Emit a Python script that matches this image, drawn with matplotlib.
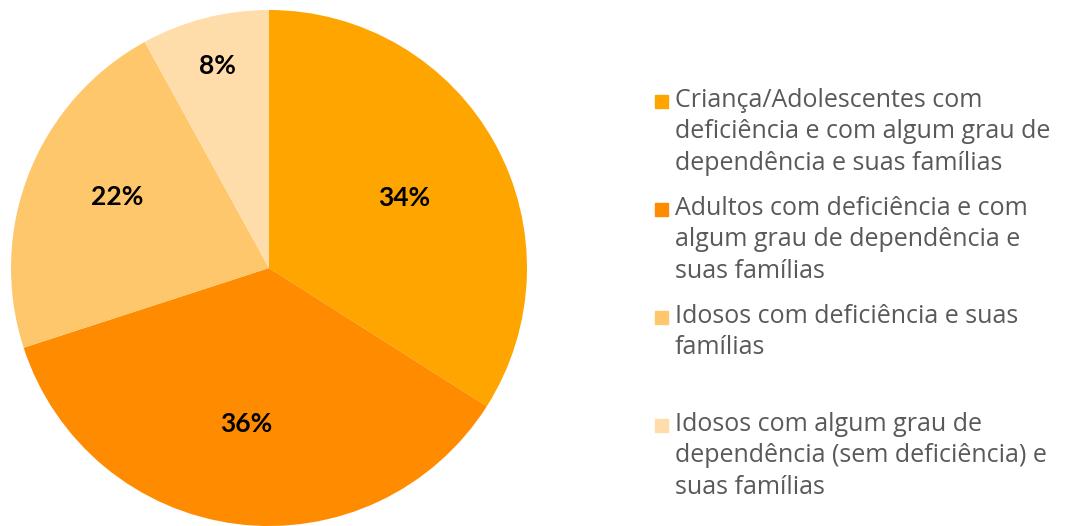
import matplotlib.pyplot as plt
from matplotlib.patches import Rectangle
import numpy as np

# data
labels = ['Criança/Adolescentes com\ndeficiência e com algum grau de\ndependência e suas famílias',
          'Adultos com deficiência e com\nalgum grau de dependência e\nsuas famílias',
          'Idosos com deficiência e suas\nfamílias',
          'Idosos com algum grau de\ndependência (sem deficiência) e\nsuas famílias']
shares = [34, 36, 22, 8]
colors = ['#FFA500', '#FF8C00', '#FFC76B', '#FFDDAA']
label_dist = [0.59, 0.61, 0.65, 0.81]
label_turn = [-1.5, -1.0, -3.5, 0.0]  # small angle nudges (deg)

fig = plt.figure(figsize=(10.74, 5.26), dpi=100)
ax = fig.add_axes([11/1074, 0/526, 516/1074, 516/526])

wedges, texts, autotexts = ax.pie(shares, colors=colors, startangle=90, counterclock=False,
                                  autopct='%1.0f%%', pctdistance=0.6,
                                  textprops=dict(fontsize=19, fontweight='bold', family='Lato', color='black'))
# move the % labels like the original
for w, t, d, a in zip(wedges, autotexts, label_dist, label_turn):
    ang = np.deg2rad((w.theta1 + w.theta2) / 2 + a)
    t.set_position((d * np.cos(ang), d * np.sin(ang)))
ax.set_xlim(-1, 1)
ax.set_ylim(-1, 1)
ax.set_aspect('equal')
ax.axis('off')

# legend drawn by hand so squares line up with the first text line
y0 = 101
for i, (lab, col) in enumerate(zip(labels, colors)):
    y = y0 + i * 108
    fig.patches.append(Rectangle((655/1074, 1 - (y + 7)/526), 13/1074, 13/526,
                                 transform=fig.transFigure, color=col, figure=fig))
    fig.text(675/1074, 1 - (y - 13)/526, lab, fontsize=18, family='Open Sans', color='#595959',
             va='top', ha='left', linespacing=1.33)

plt.savefig('out.png', dpi=100)
